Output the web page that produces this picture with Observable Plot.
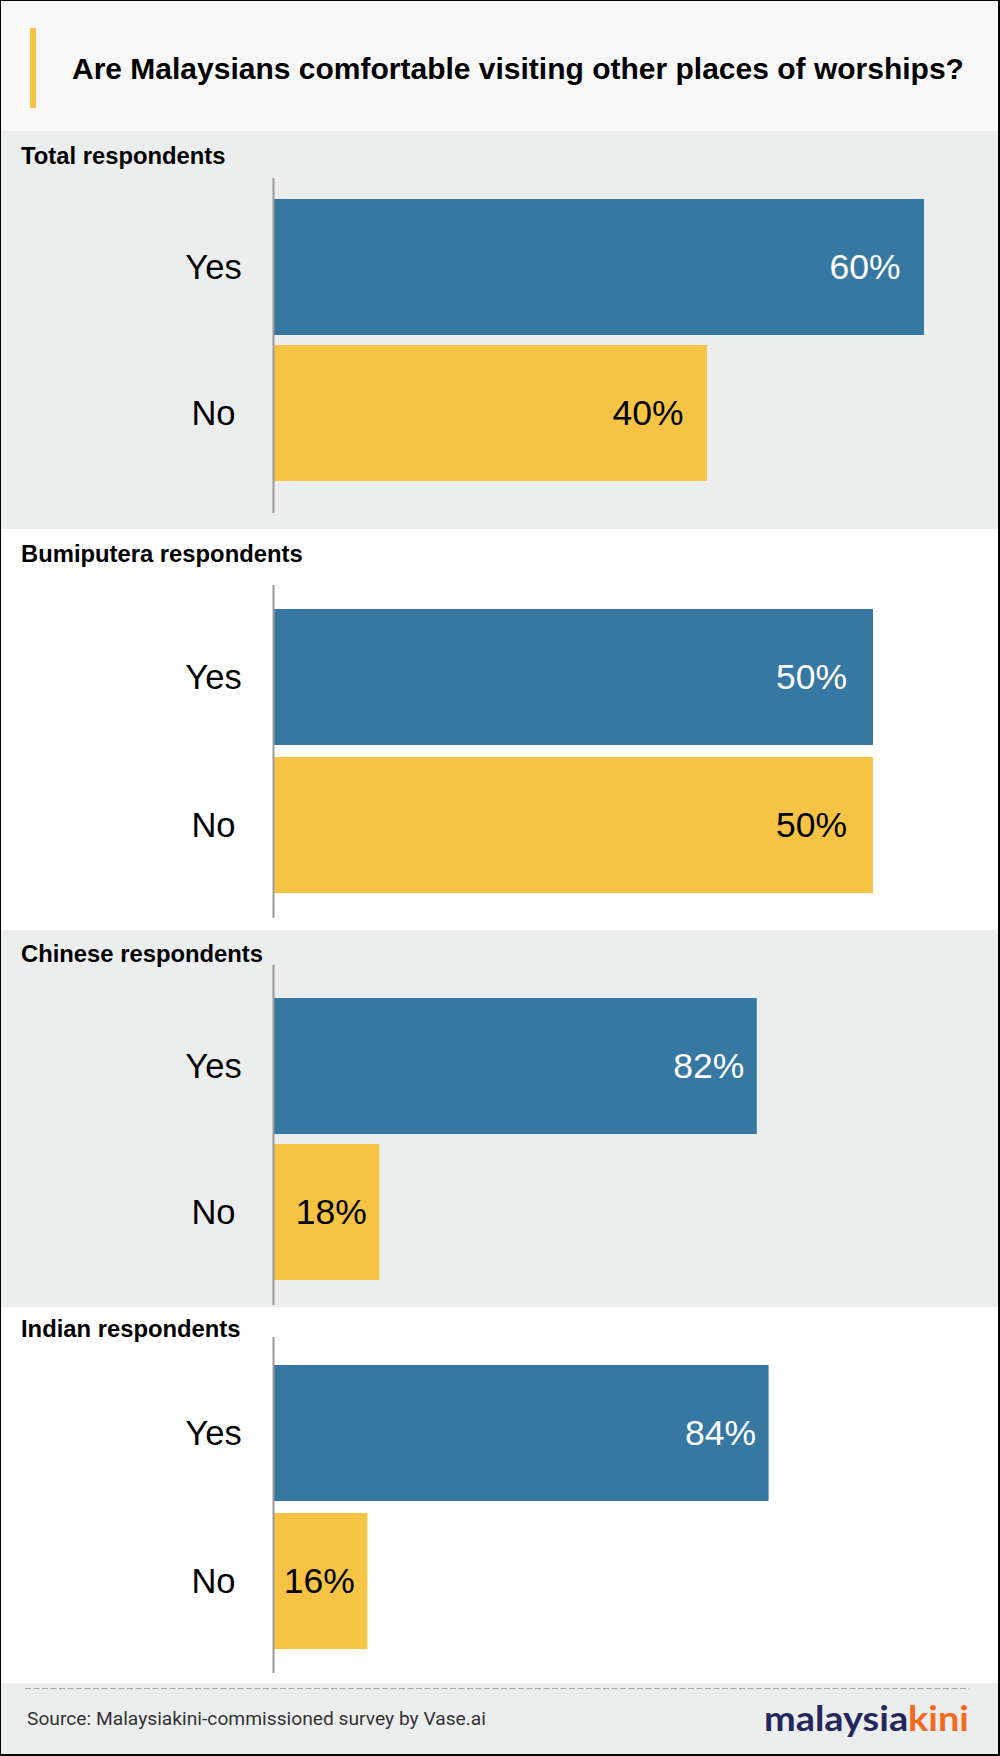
<!DOCTYPE html>
<html>
<head>
<meta charset="utf-8">
<script src="https://cdn.jsdelivr.net/npm/d3@7"></script>
<script src="https://cdn.jsdelivr.net/npm/@observablehq/plot@0.6"></script>
<style>
  html, body { margin: 0; padding: 0; background: #fff; }
  #root { position: relative; width: 1000px; height: 1756px; overflow: hidden; background: #fff;
          font-family: "Liberation Sans", Arial, Helvetica, sans-serif; }
  #root svg text { font-family: "Liberation Sans", Arial, Helvetica, sans-serif; }
  #root svg text.foot-src { font-family: Roboto, "Open Sans", sans-serif; }
  #root svg text.foot-logo { font-family: Lato, "Open Sans", sans-serif; }
  .ptitle { position: absolute; left: 21px; font-weight: bold; font-size: 23.8px; line-height: 23.8px; color: #000; white-space: nowrap; }
  #frame { position: absolute; left: 0; top: 0; width: 1000px; height: 1756px; box-sizing: border-box;
           border-left: 1.5px solid #000; border-top: 1.5px solid #000; border-right: 2px solid #000; border-bottom: 2px solid #000; pointer-events: none; }
</style>
</head>
<body>
<div id="root"></div>
<script>
// ---- data ----
const chartTitle = "Are Malaysians comfortable visiting other places of worships?";
const groups = ["Total respondents", "Bumiputera respondents", "Chinese respondents", "Indian respondents"];
const answers = ["Yes", "No"];
const yesValues = [60, 50, 82, 84];
const noValues = [40, 50, 18, 16];
const sourceText = "Source: Malaysiakini-commissioned survey by Vase.ai";

// ---- layout (per panel) ----
const FONT = "Liberation Sans, Arial, Helvetica, sans-serif";
const BLUE = "#3678a1", YELLOW = "#f5c445", GRAY = "#eceeed";
const panels = [
  {top: 131, height: 398, bg: GRAY,   titleBase: 164, axisTop: 178, axisLen: 335, mt: 21, mb: 32, gap: 10, pxPerUnit: 10.85},
  {top: 529, height: 401, bg: "#fff", titleBase: 562, axisTop: 585, axisLen: 333, mt: 24, mb: 25, gap: 12, pxPerUnit: 12.0},
  {top: 930, height: 377, bg: GRAY,   titleBase: 962, axisTop: 965, axisLen: 340, mt: 33, mb: 25, gap: 10, pxPerUnit: 5.90},
  {top: 1307, height: 376, bg: "#fff", titleBase: 1337, axisTop: 1337, axisLen: 336, mt: 28, mb: 24, gap: 12, pxPerUnit: 5.90}
];
const marginLeft = 273, marginRight = 27;
const rangeWidth = 1000 - marginLeft - marginRight;

const root = document.getElementById("root");

function el(tag, style, text) {
  const e = document.createElement(tag);
  Object.assign(e.style, style);
  if (text != null) e.textContent = text;
  return e;
}

// header
root.appendChild(el("div", {position: "absolute", left: "0px", top: "0px", width: "1000px", height: "131px", background: "#f8f8f8"}));
root.appendChild(el("div", {position: "absolute", left: "30px", top: "28px", width: "6px", height: "80px", background: YELLOW}));
root.appendChild(el("div", {position: "absolute", left: "72px", top: (79 - 0.8465 * 30) + "px", fontSize: "30px", lineHeight: "30px",
  fontWeight: "bold", color: "#000", whiteSpace: "nowrap"}, chartTitle));

// panels
groups.forEach((g, i) => {
  const p = panels[i];
  const data = [
    {answer: answers[0], value: yesValues[i]},
    {answer: answers[1], value: noValues[i]}
  ];
  const panel = el("div", {position: "absolute", left: "0px", top: p.top + "px", width: "1000px", height: p.height + "px", background: p.bg});
  root.appendChild(panel);
  const t = el("div", {top: (p.titleBase - p.top - 0.8465 * 23.8) + "px"}, g);
  t.className = "ptitle";
  panel.appendChild(t);

  const step = p.gap + 136;
  const xMax = rangeWidth / p.pxPerUnit;
  const labelShift = 2.2;
  const chart = Plot.plot({
    width: 1000,
    height: p.axisLen,
    marginLeft, marginRight,
    marginTop: p.mt, marginBottom: p.mb,
    style: {background: "transparent", fontFamily: FONT, color: "#000", overflow: "visible"},
    x: {domain: [0, xMax], axis: null},
    y: {domain: answers, paddingInner: p.gap / step, paddingOuter: 0},
    color: {domain: answers, range: [BLUE, YELLOW]},
    marks: [
      Plot.barX(data, {x: "value", y: "answer", fill: "answer"}),
      Plot.ruleX([0], {stroke: "#9a9a9a", strokeWidth: 2, insetTop: -p.mt, insetBottom: -p.mb}),
      Plot.text(data.filter(d => d.answer === "Yes"), {x: d => d.value - labelShift, y: "answer", text: d => d.value + "%",
        textAnchor: "end", fill: "#fff", fontSize: 35.5, fontFamily: FONT}),
      Plot.text(data.filter(d => d.answer === "No"), {x: d => d.value - labelShift, y: "answer", text: d => d.value + "%",
        textAnchor: "end", fill: "#000", fontSize: 35.5, fontFamily: FONT}),
      Plot.axisY({tickSize: 0, tickPadding: 60, textAnchor: "middle", fontSize: 34.5, fontFamily: FONT, label: null, fill: "#000"})
    ]
  });
  chart.style.position = "absolute";
  chart.style.left = "0px";
  chart.style.top = (p.axisTop - p.top) + "px";
  chart.style.fontFamily = FONT;
  panel.appendChild(chart);
});

// footer
const footer = el("div", {position: "absolute", left: "0px", top: "1683px", width: "1000px", height: "73px", background: GRAY});
root.appendChild(footer);
const ns = "http://www.w3.org/2000/svg";
const fsvg = document.createElementNS(ns, "svg");
fsvg.setAttribute("width", 1000); fsvg.setAttribute("height", 73);
fsvg.style.position = "absolute"; fsvg.style.left = "0px"; fsvg.style.top = "0px";
const dl = document.createElementNS(ns, "line");
dl.setAttribute("x1", 25); dl.setAttribute("x2", 969); dl.setAttribute("y1", 5.5); dl.setAttribute("y2", 5.5);
dl.setAttribute("stroke", "#a8a8a8"); dl.setAttribute("stroke-width", 1); dl.setAttribute("stroke-dasharray", "6,2.5");
fsvg.appendChild(dl);
const st = document.createElementNS(ns, "text");
st.setAttribute("class", "foot-src");
st.setAttribute("x", 27); st.setAttribute("y", 1725 - 1683);
st.setAttribute("font-size", 18.3);
st.setAttribute("fill", "#333"); st.setAttribute("textLength", 459); st.setAttribute("lengthAdjust", "spacingAndGlyphs");
st.textContent = sourceText;
fsvg.appendChild(st);
const logo = document.createElementNS(ns, "text");
logo.setAttribute("class", "foot-logo");
logo.setAttribute("x", 764); logo.setAttribute("y", 1731 - 1683);
logo.setAttribute("font-size", 35);
logo.setAttribute("font-weight", 700);
logo.setAttribute("textLength", 205); logo.setAttribute("lengthAdjust", "spacingAndGlyphs");
const t1 = document.createElementNS(ns, "tspan"); t1.setAttribute("fill", "#23275e"); t1.textContent = "malaysia";
const t2 = document.createElementNS(ns, "tspan"); t2.setAttribute("fill", "#f26a21"); t2.textContent = "kini";
logo.appendChild(t1); logo.appendChild(t2);
fsvg.appendChild(logo);
footer.appendChild(fsvg);

root.appendChild(el("div", {}, null)).id = "frame";
</script>
</body>
</html>
